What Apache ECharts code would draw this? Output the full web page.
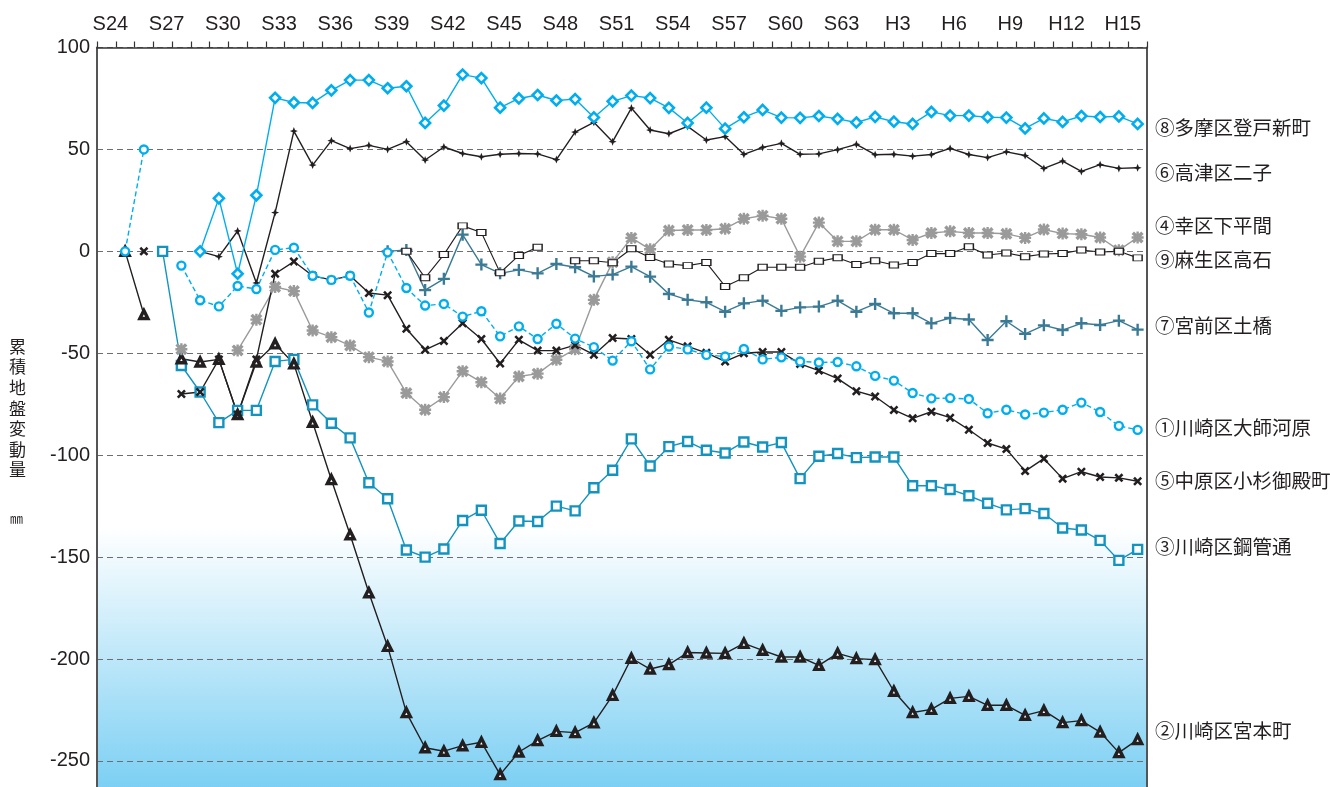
<!DOCTYPE html>
<html>
<head>
<meta charset="utf-8">
<script src="https://cdn.jsdelivr.net/npm/echarts@6/dist/echarts.min.js"></script>
<style>
  html, body { margin: 0; padding: 0; background: #fff; }
  #chart { width: 1330px; height: 787px; }
</style>
</head>
<body>
<div id="chart"></div>
<script>
// Survey years (Showa 24 .. Heisei 16)
const years = [];
for (let s = 24; s <= 63; s++) years.push('S' + s);
for (let h = 1; h <= 16; h++) years.push('H' + h);

const yTicks = { min: -300, max: 100, step: 50 };

// Cumulative ground movement (mm) per station, one value per year, null = not surveyed
const daishi = [null, 0, 50, null, -7, -24, -27, -17, -18.5, 0.7, 1.8, -12, -14, -12, -30, -0.5, -18, -26.6, -25.8, -32, -29.4, -41.7, -36.8, -43, -35.5, -42.8, -47, -53.6, -44.1, -57.9, -46.7, -48.1, -50.8, -51.6, -47.9, -53, -52, -54, -54.5, -54.3, -56.4, -61.1, -63.4, -69.5, -72.1, -72, -72.4, -79.4, -77.7, -80, -79.1, -77.7, -74.2, -78.8, -85.6, -87.6];
const miyamoto = [null, 0, -31, null, -52.7, -54.3, -53, -80, -54.3, -45.4, -55.2, -83.8, -112, -139, -167.5, -193.8, -226.3, -243.5, -245.2, -242.5, -240.8, -256.7, -245.6, -240, -235.5, -236.1, -231.3, -217.8, -199.6, -204.9, -202.7, -196.8, -197, -197.2, -192.3, -195.7, -199, -199, -203.1, -197.2, -199.8, -200.3, -215.8, -226.2, -224.7, -219.3, -218.3, -222.7, -222.7, -227.6, -225.3, -231.2, -230.2, -235.8, -245.9, -239.5];
const kokan = [null, null, null, 0, -56, -69, -84, -78, -78, -54, -53, -75.3, -84.3, -91.5, -113.5, -121.4, -146.5, -150, -146, -132, -127, -143.3, -132.3, -132.5, -125, -127.3, -116, -107.4, -92, -105.3, -95.8, -93.3, -97.6, -98.9, -93.5, -96, -93.8, -111.5, -100.5, -99.2, -101.2, -100.9, -100.9, -115, -115, -116.8, -119.9, -123.6, -126.8, -126.2, -128.6, -135.7, -136.7, -141.8, -151.6, -146.2];
const shimohirama = [null, null, null, null, -48, null, null, -48.6, -33.5, -17.5, -19.5, -38.8, -42.1, -46.2, -51.9, -54, -69.5, -77.7, -71.5, -58.8, -64.2, -72.2, -61.4, -60, -53.2, -48, -23.8, -5.3, 6.6, 1, 10.2, 10.5, 10.5, 11.1, 16, 17.5, 16, -2.6, 14.1, 4.9, 4.9, 10.6, 10.6, 5.6, 9, 9.8, 9, 9, 8.6, 6.6, 10.7, 8.7, 8.4, 6.8, 0.6, 6.8];
const kosugi = [null, null, 0, null, -70, -69, -53, -80, -53, -11, -5, -12, -14, -12, -20.4, -21.5, -38, -48.3, -44, -35.3, -43, -55, -43.4, -48.7, -48.7, -46, -50.7, -42.5, -43, -50.7, -43.4, -46.6, -49.8, -54, -50, -49.4, -49.4, -55.2, -58.5, -62.4, -68.6, -71.2, -77.8, -81.9, -78.7, -81.6, -87.5, -94, -97, -107.8, -101.7, -111.5, -108.1, -110.7, -111.1, -112.8];
const futago = [null, null, null, null, null, 0, -2.6, 10, -15.5, 19, 59, 42.3, 54.3, 50.4, 52, 50, 53.8, 44.8, 51.2, 48, 46.4, 47.6, 48, 47.8, 45, 58.5, 63.3, 53.8, 70.3, 59.5, 57.7, 61.3, 54.6, 56.3, 47.6, 51, 53, 47.6, 47.8, 49.9, 52.5, 47.4, 47.6, 46.7, 47.5, 50.5, 47.5, 46, 48.8, 47, 40.7, 44.3, 39.2, 42.5, 40.7, 41];
const tsuchihashi = [null, null, null, null, null, null, null, null, null, null, null, null, null, null, null, 0, 0.7, -19, -13.5, 8.2, -6.5, -10.8, -9.1, -10.8, -6.2, -7.8, -12.3, -11.4, -7.5, -12.4, -20.9, -23.8, -25, -29.6, -25.5, -24.2, -29.2, -27.5, -27.1, -24.2, -29.6, -25.8, -30.4, -30.4, -35.3, -32.7, -33.4, -43.5, -34.3, -40.5, -36.3, -38.6, -35.3, -36.1, -34, -38.4];
const noborito = [null, null, null, null, null, 0, 26, -11, 27.5, 75.3, 73, 72.8, 79, 84, 84, 80, 81, 63, 71.5, 86.7, 85, 70.5, 75, 76.7, 74, 74.7, 65.7, 73.6, 76.4, 75.2, 70.4, 63, 70.5, 60.2, 65.8, 69.4, 65.6, 65.5, 66.4, 65, 63.2, 66, 63.6, 62.5, 68.4, 66.6, 66.6, 65.8, 65.6, 60.3, 65.2, 63.5, 66.4, 65.9, 66.2, 62.5];
const takaishi = [null, null, null, null, null, null, null, null, null, null, null, null, null, null, null, null, 0, -13, -1.6, 12.5, 9.2, -10.5, -2, 2, null, -4.6, -4.6, -5.6, 1.3, -3, -6.2, -7, -5.5, -17.2, -13, -7.8, -7.8, -7.8, -4.9, -3.1, -6.5, -4.6, -6.7, -5.5, -1.1, -1.1, 2.3, -1.8, -0.8, -2.6, -1.3, -1, 0.7, -0.3, 0, -3.2];

// Station names shown at the right edge
const stationNames = ['⑧多摩区登戸新町', '⑥高津区二子', '④幸区下平間', '⑨麻生区高石', '⑦宮前区土橋', '①川崎区大師河原', '⑤中原区小杉御殿町', '③川崎区鋼管通', '②川崎区宮本町'];
const nameY = [128, 173, 226, 260, 326, 428, 481, 547, 731];

const yTitle = '累積地盤変動量';
const unitLabel = '㎜';

// Marker outlines
const SYM_CROSS = 'path://M2,0L5,3L8,0L10,2L7,5L10,8L8,10L5,7L2,10L0,8L3,5L0,2Z';
const SYM_PLUS = 'path://M4,0H6V4H10V6H6V10H4V6H0V4H4Z';
const SYM_STAR4 = 'path://M5,0L6.4,3.6L10,5L6.4,6.4L5,10L3.6,6.4L0,5L3.6,3.6Z';
const SYM_ASTER = 'path://M2,0L5,3L8,0L10,2L7,5L10,8L8,10L5,7L2,10L0,8L3,5L0,2Z M4,0H6V10H4Z M0,4H10V6H0Z';

const CYAN = '#00aeef', BLACK = '#231f20', GREY = '#9a9a9a', TEAL = '#1394c0', STEEL = '#3a7a94';

function line(name, data, color, opts) {
  return Object.assign({
    name: name, type: 'line', data: data, connectNulls: false,
    lineStyle: { color: color, width: 1.4 },
    itemStyle: { color: color },
    emphasis: { disabled: true }
  }, opts);
}

const series = [
  line('③', kokan, TEAL, { symbol: 'rect', symbolSize: 9, itemStyle: { color: '#fff', borderColor: TEAL, borderWidth: 2.4 } }),
  line('②', miyamoto, BLACK, { symbol: 'triangle', symbolSize: 8, itemStyle: { color: '#fff', borderColor: BLACK, borderWidth: 3.4 } }),
  line('④', shimohirama, GREY, { symbol: SYM_ASTER, symbolSize: 12, itemStyle: { color: GREY } }),
  line('⑦', tsuchihashi, STEEL, { symbol: SYM_PLUS, symbolSize: 12, itemStyle: { color: STEEL } }),
  line('⑨', takaishi, BLACK, { symbol: 'rect', symbolSize: [9, 6], lineStyle: { color: BLACK, width: 1.1 }, itemStyle: { color: '#fff', borderColor: BLACK, borderWidth: 1.2 } }),
  line('⑥', futago, BLACK, { symbol: SYM_STAR4, symbolSize: 8, itemStyle: { color: BLACK } }),
  line('⑤', kosugi, BLACK, { symbol: SYM_CROSS, symbolSize: 9, itemStyle: { color: BLACK } }),
  line('①', daishi, CYAN, { symbol: 'circle', symbolSize: 8, lineStyle: { color: CYAN, width: 1.4, type: [5, 3] }, itemStyle: { color: '#fff', borderColor: CYAN, borderWidth: 2.4 } }),
  line('⑧', noborito, CYAN, { symbol: 'diamond', symbolSize: 10, itemStyle: { color: '#fff', borderColor: CYAN, borderWidth: 2.6 } })
];

const graphics = [
  // pale blue wash towards the bottom of the plot
  { type: 'rect', z: -10, shape: { x: 97, y: 528, width: 1050, height: 262 },
    style: { fill: { type: 'linear', x: 0, y: 0, x2: 0, y2: 1, colorStops: [{ offset: 0, color: '#ffffff' }, { offset: 1, color: '#7bcff3' }] } } },
  { type: 'text', left: 9, top: 336, style: { text: yTitle.split('').join('\n'), font: '17px "Noto Sans CJK JP"', lineHeight: 20.6, fill: BLACK } },
  { type: 'text', left: 10, top: 512, style: { text: unitLabel, font: '13px "Noto Sans CJK JP"', fill: BLACK } }
];
stationNames.forEach(function (t, k) {
  graphics.push({ type: 'text', x: 1155, y: nameY[k], style: { text: t, font: '19.5px "Noto Sans CJK JP"', fill: BLACK, textVerticalAlign: 'middle' } });
});

const chart = echarts.init(document.getElementById('chart'), null, { renderer: 'canvas' });
chart.setOption({
  animation: false,
  backgroundColor: '#fff',
  // the plot runs past the bottom edge of the canvas, down to -300
  grid: { left: 97, top: 47.5, width: 1050, height: 815.4, containLabel: false, outerBoundsMode: 'none' },
  xAxis: {
    type: 'category', position: 'top', data: years, boundaryGap: true,
    axisLine: { onZero: false, lineStyle: { color: '#333', width: 1.6 } },
    axisTick: { show: true, interval: 0, length: 6, lineStyle: { color: '#333', width: 1.2 } },
    axisLabel: { interval: 2, fontSize: 20, color: BLACK, margin: 13, padding: [0, 0, 0, 8], fontFamily: 'Liberation Sans' },
    splitLine: { show: false }
  },
  yAxis: [{
    type: 'value', min: yTicks.min, max: yTicks.max, interval: yTicks.step,
    axisLine: { show: true, onZero: false, lineStyle: { color: '#555', width: 2 } },
    axisTick: { show: false },
    axisLabel: { fontSize: 20, color: BLACK, margin: 7, fontFamily: 'Liberation Sans',
      formatter: function (v) { return v <= yTicks.min ? '' : String(v); } },
    splitLine: { show: true, lineStyle: { color: '#6e6e6e', width: 1.2, type: [6, 4] } }
  }, {
    type: 'value', position: 'right', min: yTicks.min, max: yTicks.max, interval: yTicks.step,
    axisLine: { show: true, onZero: false, lineStyle: { color: '#555', width: 2 } },
    axisTick: { show: false }, axisLabel: { show: false }, splitLine: { show: false }
  }],
  graphic: graphics,
  series: series
});
</script>
</body>
</html>
